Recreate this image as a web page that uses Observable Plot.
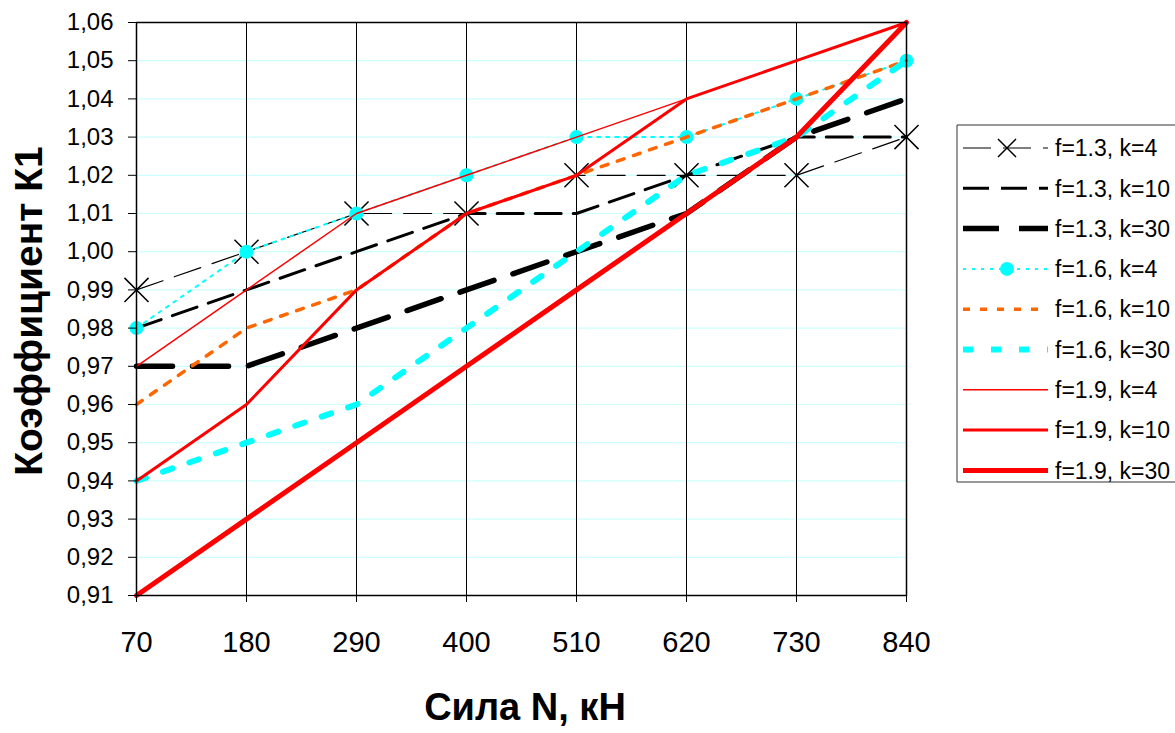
<!DOCTYPE html>
<html><head><meta charset="utf-8">
<script src="https://cdn.jsdelivr.net/npm/d3@7"></script>
<script src="https://cdn.jsdelivr.net/npm/@observablehq/plot@0.6"></script>
<style>
body{margin:0;background:#fff;}
#chart{position:relative;width:1175px;height:733px;overflow:hidden;}
#chart svg{display:block;}
</style>
</head><body><div id="chart"></div>
<script>
// ---- data ----
const forces = [70, 180, 290, 400, 510, 620, 730, 840];
const yTicks = [0.91, 0.92, 0.93, 0.94, 0.95, 0.96, 0.97, 0.98, 0.99, 1.00, 1.01, 1.02, 1.03, 1.04, 1.05, 1.06];
const seriesNames = ["f=1.3, k=4", "f=1.3, k=10", "f=1.3, k=30", "f=1.6, k=4", "f=1.6, k=10", "f=1.6, k=30", "f=1.9, k=4", "f=1.9, k=10", "f=1.9, k=30"];
const f13k4  = [0.99, 1.00, 1.01, 1.01, 1.02, 1.02, 1.02, 1.03];
const f13k10 = [0.98, 0.99, 1.00, 1.01, 1.01, 1.02, 1.03, 1.03];
const f13k30 = [0.97, 0.97, 0.98, 0.99, 1.00, 1.01, 1.03, 1.04];
const f16k4  = [0.98, 1.00, 1.01, 1.02, 1.03, 1.03, 1.04, 1.05];
const f16k10 = [0.96, 0.98, 0.99, 1.01, 1.02, 1.03, 1.04, 1.05];
const f16k30 = [0.94, 0.95, 0.96, 0.98, 1.00, 1.02, 1.03, 1.05];
const f19k4  = [0.97, 0.99, 1.01, 1.02, 1.03, 1.04, 1.05, 1.06];
const f19k10 = [0.94, 0.96, 0.99, 1.01, 1.02, 1.04, 1.05, 1.06];
const f19k30 = [0.91, 0.93, 0.95, 0.97, 0.99, 1.01, 1.03, 1.06];
const seriesValues = [f13k4, f13k10, f13k30, f16k4, f16k10, f16k30, f19k4, f19k10, f19k30];

// ---- styles ----
const styles = [
  {stroke: "#000", width: 1.2, dash: "28,12", marker: "times"},
  {stroke: "#000", width: 3, dash: "26,12"},
  {stroke: "#000", width: 5.5, dash: "36,20"},
  {stroke: "#00ffff", width: 2, dash: "3,6", marker: "circle"},
  {stroke: "#ff6600", width: 3.5, dash: "7,10"},
  {stroke: "#00ffff", width: 6, dash: "10,18"},
  {stroke: "#ff0000", width: 1.5, dash: null},
  {stroke: "#ff0000", width: 3, dash: null},
  {stroke: "#ff0000", width: 5, dash: null}
];

const fmt = d => d.toFixed(2).replace(".", ",");
const FONT = "'Liberation Sans', Arial, sans-serif";

const marks = [
  Plot.ruleY(yTicks, {stroke: "#ccffff", strokeWidth: 1.2}),
  Plot.ruleX(forces, {stroke: "#000", strokeWidth: 1})
];
seriesValues.forEach((vals, i) => {
  const data = forces.map((f, j) => ({x: f, y: vals[j], s: seriesNames[i]}));
  const st = styles[i];
  marks.push(Plot.line(data, {x: "x", y: "y", stroke: st.stroke, strokeWidth: st.width,
    strokeDasharray: st.dash || undefined, strokeLinejoin: "miter"}));
  if (st.marker === "times") {
    marks.push(Plot.dot(data, {x: "x", y: "y", symbol: "times", r: 11, stroke: "#000", strokeWidth: 1.5}));
  } else if (st.marker === "circle") {
    marks.push(Plot.dot(data, {x: "x", y: "y", r: 7, fill: "#00ffff", stroke: "none"}));
  }
});
marks.push(Plot.frame({stroke: "#000", strokeWidth: 1.5}));
marks.push(Plot.axisY({ticks: yTicks, tickFormat: fmt, tickSize: 8, tickPadding: 15, fontSize: 24, label: null}));
marks.push(Plot.axisX({tickSize: 7, tickPadding: 29, fontSize: 29, label: null}));

const chart = Plot.plot({
  width: 1175, height: 733,
  marginLeft: 136, marginRight: 269, marginTop: 22, marginBottom: 138,
  style: {fontFamily: FONT, color: "#000", background: "#fff", overflow: "visible"},
  x: {type: "point", domain: forces, padding: 0},
  y: {domain: [0.91, 1.06]},
  marks
});
document.getElementById("chart").appendChild(chart);

const svg = d3.select(chart);
// axis titles
svg.append("text").attr("x", 525).attr("y", 720).attr("text-anchor", "middle")
  .attr("font-family", FONT).attr("font-weight", "bold").attr("font-size", 38).attr("fill", "#000")
  .text("Сила N, кН");
svg.append("text").attr("transform", "translate(42,311) rotate(-90)").attr("text-anchor", "middle")
  .attr("font-family", FONT).attr("font-weight", "bold").attr("font-size", 39).attr("fill", "#000")
  .text("Коэффициент К1");

// legend (box runs off the right edge, as in the original)
const lg = svg.append("g");
lg.append("rect").attr("x", 957).attr("y", 125).attr("width", 400).attr("height", 357)
  .attr("fill", "#fff").attr("stroke", "none");
lg.append("path").attr("d", "M1400,125H957V482H1400").attr("fill", "none")
  .attr("stroke", "#333").attr("stroke-width", 1);
seriesNames.forEach((name, i) => {
  const y = 148 + i * 40.3;
  const st = styles[i];
  lg.append("line").attr("x1", 963).attr("x2", 1048).attr("y1", y).attr("y2", y)
    .attr("stroke", st.stroke).attr("stroke-width", st.width)
    .attr("stroke-dasharray", st.dash);
  if (st.marker === "times") {
    const r = 9;
    lg.append("path").attr("d", `M${1007-r},${y-r}L${1007+r},${y+r}M${1007-r},${y+r}L${1007+r},${y-r}`)
      .attr("stroke", "#000").attr("stroke-width", 1.5);
  } else if (st.marker === "circle") {
    lg.append("circle").attr("cx", 1007).attr("cy", y).attr("r", 7).attr("fill", "#00ffff");
  }
  lg.append("text").attr("x", 1055).attr("y", y).attr("dy", "0.36em").attr("text-anchor", "start")
    .attr("font-family", FONT).attr("font-size", 23).attr("fill", "#000").text(name);
});
</script>
</body></html>
